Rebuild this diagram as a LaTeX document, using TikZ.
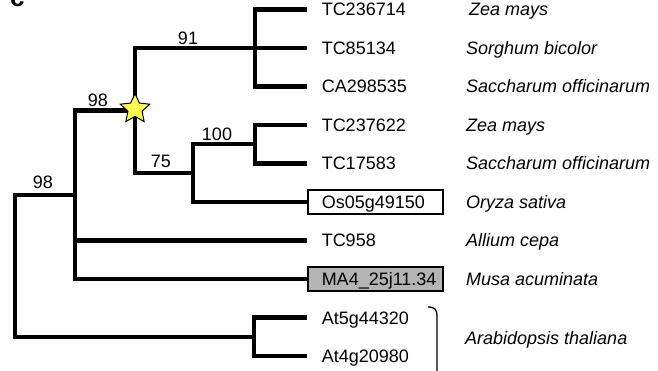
\documentclass[tikz,border=0pt]{standalone}
\usepackage{fontspec}
\setmainfont{Liberation Sans}
\usetikzlibrary{shapes.geometric}
\definecolor{boxgray}{RGB}{180,180,180}
\definecolor{staryellow}{RGB}{255,255,85}
\begin{document}
\begin{tikzpicture}[x=1pt,y=-1pt,
  branch/.style={line width=4.2pt, line join=miter},
  gene/.style={anchor=west, inner xsep=14pt, inner ysep=0pt, minimum height=24pt,
    text height=13pt, text depth=0pt, text width=107pt, align=left,
    font=\fontsize{18}{21}\selectfont, line width=1.5pt},
  boxed/.style={draw},
  grayboxed/.style={draw, fill=boxgray},
  species/.style={anchor=west, inner sep=0pt, text height=13pt, text depth=0pt,
    font=\fontsize{18}{21}\selectfont\itshape},
  support/.style={inner sep=0pt, text height=13pt, text depth=0pt,
    font=\fontsize{18}{21}\selectfont},
  bracket/.style={line width=1.3pt}]
\useasboundingbox (0,0) rectangle (658,371);
\clip (0,0) rectangle (658,371);

% panel letter (cut off at the top)
\node[anchor=base west, inner sep=0pt, font=\bfseries\fontsize{26}{26}\selectfont] (panel) at (10,6.5) {c};

% internal nodes
\coordinate (R) at (15,266);
\coordinate (D) at (75,194.75);
\coordinate (S) at (135,110.5);
\coordinate (A) at (255,48);
\coordinate (C) at (193,173);
\coordinate (B) at (255,144.25);
\coordinate (E) at (254,336.75);

% gene labels
\node[gene] (g1) at (307,9.5) {TC236714};
\node[gene] (g2) at (307,48) {TC85134};
\node[gene] (g3) at (307,86.5) {CA298535};
\node[gene] (g4) at (307,125) {TC237622};
\node[gene] (g5) at (307,163.5) {TC17583};
\node[gene,boxed] (g6) at (307,202) {Os05g49150};
\node[gene] (g7) at (307,240.5) {TC958};
\node[gene,grayboxed] (g8) at (307,279) {MA4\_25j11.34};
\node[gene] (g9) at (307,317.5) {At5g44320};
\node[gene] (g10) at (307,356) {At4g20980};

% species
\node[species] (s1) at (469,9.5) {Zea mays};
\node[species] (s2) at (466,48) {Sorghum bicolor};
\node[species] (s3) at (466,86.5) {Saccharum officinarum};
\node[species] (s4) at (466,125) {Zea mays};
\node[species] (s5) at (466,163.5) {Saccharum officinarum};
\node[species] (s6) at (466,202) {Oryza sativa};
\node[species] (s7) at (466,240.5) {Allium cepa};
\node[species] (s8) at (466,279) {Musa acuminata};
\node[species] (s9) at (465,338) {Arabidopsis thaliana};

% branches
\draw[branch] (R) |- (D);
\draw[branch] (R) |- (E);
\draw[branch] (D) |- (S);
\draw[branch] (D) |- (g7.west);
\draw[branch] (D) |- (g8.west);
\draw[branch] (S) |- (A);
\draw[branch] (S) |- (C);
\draw[branch] (A) |- (g1.west);
\draw[branch] (A) |- (g2.west);
\draw[branch] (A) |- (g3.west);
\draw[branch] (C) |- (B);
\draw[branch] (C) |- (g6.west);
\draw[branch] (B) |- (g4.west);
\draw[branch] (B) |- (g5.west);
\draw[branch] (E) |- (g9.west);
\draw[branch] (E) |- (g10.west);

% support values
\node[support] (b91) at (188,38) {91};
\node[support] (b98a) at (98,100) {98};
\node[support] (b100) at (217,134) {100};
\node[support] (b75) at (161,161.5) {75};
\node[support] (b98b) at (43,182) {98};

% star
\node[star, star points=5, star point ratio=2.1, draw, fill=staryellow,
  minimum size=31pt, inner sep=0pt, line width=1pt] (star) at (135,109) {};

% bracket for Arabidopsis
\coordinate (brtop) at (428,307);
\coordinate (brbot) at (437,372);
\draw[bracket] (brtop) .. controls (435,307) and (437,310) .. (437,316) -- (brbot);
\end{tikzpicture}
\end{document}
